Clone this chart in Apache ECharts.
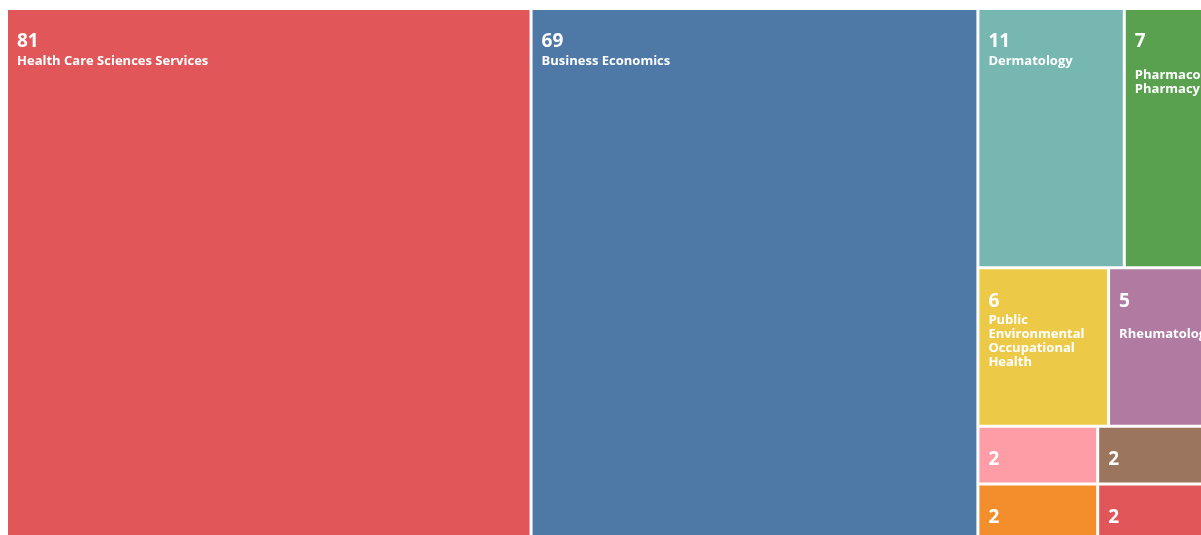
<!DOCTYPE html>
<html>
<head>
<meta charset="utf-8">
<script src="https://cdn.jsdelivr.net/npm/echarts@6/dist/echarts.min.js"></script>
<style>
  html, body { margin: 0; padding: 0; background: #ffffff; }
  #chart { width: 1201px; height: 535px; }
</style>
</head>
<body>
<div id="chart"></div>
<script>
// Categories (research areas) and their record counts
const categories = [
  "Health Care Sciences Services",
  "Business Economics",
  "Dermatology",
  "Pharmacology Pharmacy",
  "Public Environmental Occupational Health",
  "Rheumatology",
  "Unlabelled",
  "General Internal Medicine",
  "Medical Informatics",
  "Rehabilitation"
];
const counts = [81, 69, 11, 7, 6, 5, 2, 2, 2, 2];
// Label text as it is wrapped in the reference
const labelLines = [
  ["Health Care Sciences Services"],
  ["Business Economics"],
  ["Dermatology"],
  ["", "Pharmacology", "Pharmacy"],
  ["Public", "Environmental", "Occupational", "Health"],
  ["", "Rheumatology"],
  ["", "Unlabelled"],
  ["General", "Internal Medicine"],
  ["", "Medical", "Informatics"],
  ["", "Rehabilitation"]
];
const colors = ["#e15759", "#4e79a7", "#76b7b2", "#59a14f", "#edc948",
                "#b07aa1", "#ff9da7", "#f28e2b", "#9c755f", "#e15759"];

const data = categories.map((name, i) => ({
  name: name,
  value: counts[i],
  lines: labelLines[i],
  itemStyle: { color: colors[i] }
}));

const chart = echarts.init(document.getElementById('chart'), null, { renderer: 'canvas' });
chart.setOption({
  animation: false,
  backgroundColor: '#ffffff',
  series: [{
    type: 'treemap',
    left: 8,
    top: 10,
    width: 1208,
    height: 530,
    roam: false,
    nodeClick: false,
    breadcrumb: { show: false },
    sort: false,
    itemStyle: { gapWidth: 3, borderWidth: 0, borderColor: '#ffffff' },
    label: {
      show: true,
      position: 'insideTopLeft',
      padding: [20, 9, 0, 9],
      overflow: 'none',
      color: '#ffffff',
      formatter: function (p) {
        const lines = p.data.lines.map(l => '{n|' + (l === '' ? ' ' : l) + '}');
        return '{v|' + p.value + '}\n' + lines.join('\n');
      },
      rich: {
        v: { fontFamily: 'Open Sans', fontSize: 19, fontWeight: 'bold', lineHeight: 24, color: '#ffffff' },
        n: { fontFamily: 'Open Sans', fontSize: 13, fontWeight: 'bold', lineHeight: 14, color: '#ffffff' }
      }
    },
    data: data
  }]
});
</script>
</body>
</html>
